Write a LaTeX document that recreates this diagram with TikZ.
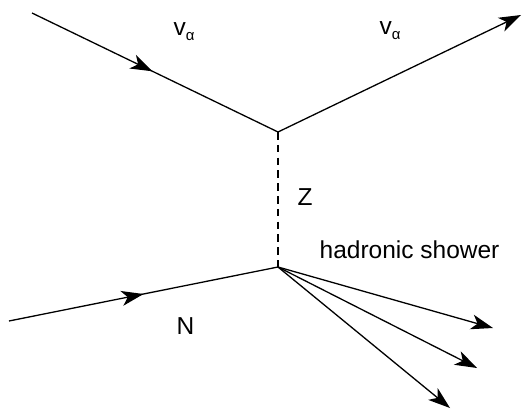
\documentclass[tikz,border=0pt]{standalone}
\usepackage{fontspec}
\setmainfont{Liberation Sans}
\usetikzlibrary{arrows.meta,decorations.markings}
\tikzset{
  tip/.style={-{Stealth[length=11pt,width=7.5pt,inset=3pt]}},
  fermion/.style={postaction={decorate},decoration={markings,
     mark=at position #1 with {\arrow{Stealth[length=11pt,width=7.5pt,inset=3pt]}}}},
  lbl/.style={anchor=base west,inner sep=0pt,font=\fontsize{12.25}{14}\selectfont},
  boson/.style={dash pattern=on 3.8pt off 2.6pt},
}
\newcommand{\nualpha}{v\raisebox{-2.5pt}{\fontsize{7.5}{8}\selectfont α}}
\begin{document}
\begin{tikzpicture}[x=0.5pt,y=-0.5pt,line width=0.65pt]
\useasboundingbox (0,0) rectangle (523,412);
\coordinate (a) at (32,13);
\coordinate (v1) at (278,132);
\coordinate (b) at (521,15);
\coordinate (n0) at (9,321);
\coordinate (v2) at (278,267);
\coordinate (s1) at (493,328);
\coordinate (s2) at (477,368);
\coordinate (s3) at (450,408);
\draw[fermion=0.49] (a) -- (v1);
\draw[tip] (v1) -- (b);
\draw[boson] (v1) -- (v2);
\draw[fermion=0.5] (n0) -- (v2);
\draw[tip] (v2) -- (s1);
\draw[tip] (v2) -- (s2);
\draw[tip] (v2) -- (s3);
\node[lbl] (nu1) at (173,35) {\nualpha};
\node[lbl] (nu2) at (379,34) {\nualpha};
\node[lbl] (z) at (297,205) {Z};
\node[lbl] (hs) at (319,258) {hadronic shower};
\node[lbl] (n) at (176,334) {N};
\end{tikzpicture}
\end{document}
